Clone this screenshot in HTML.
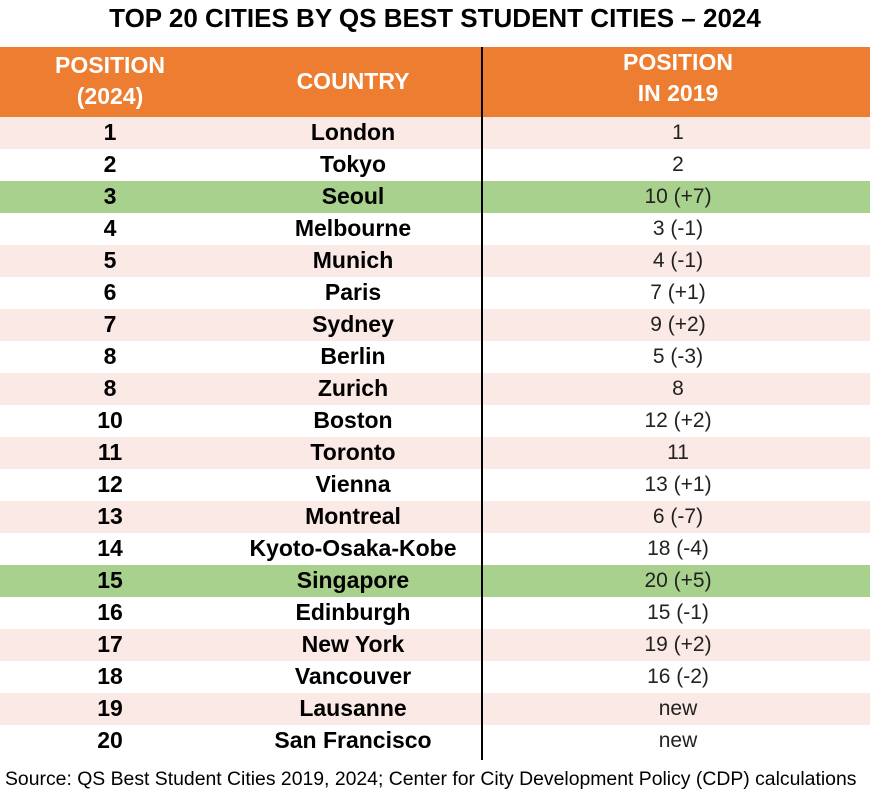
<!DOCTYPE html>
<html><head><meta charset="utf-8"><style>
body{margin:0;width:870px;height:798px;background:#fff;position:relative;overflow:hidden;font-family:"Liberation Sans",sans-serif}
.t{position:absolute;left:0;width:870px;top:3px;text-align:center;font-weight:bold;font-size:26px;color:#000}
.hd{position:absolute;left:0;top:47px;width:870px;height:70px;background:#ED7D31}
.hc{position:absolute;color:#fff;font-weight:bold;font-size:23px;text-align:center;line-height:31px}
.row{position:absolute;left:0;width:870px;height:32px}
.c{position:absolute;top:0;height:32px;line-height:31px;text-align:center;white-space:nowrap}
.b{font-weight:bold;font-size:23px}
.r{font-size:21px;color:#222}
.div{position:absolute;left:481px;top:47px;width:2px;height:713px;background:#000}
.src{position:absolute;left:5px;top:768px;font-size:19.4px;color:#000;white-space:nowrap}
</style></head><body>
<div class="t">TOP 20 CITIES BY QS BEST STUDENT CITIES – 2024</div>
<div class="hd">
<div class="hc" style="left:30px;width:160px;top:3px">POSITION<br>(2024)</div>
<div class="hc" style="left:253px;width:200px;top:19px">COUNTRY</div>
<div class="hc" style="left:578px;width:200px;top:0px">POSITION<br>IN 2019</div>
</div>
<div id="rows"></div>
<div class="div"></div>
<div class="src">Source: QS Best Student Cities 2019, 2024; Center for City Development Policy (CDP) calculations</div>
<script>
const positions=["1","2","3","4","5","6","7","8","8","10","11","12","13","14","15","16","17","18","19","20"];
const cities=["London","Tokyo","Seoul","Melbourne","Munich","Paris","Sydney","Berlin","Zurich","Boston","Toronto","Vienna","Montreal","Kyoto-Osaka-Kobe","Singapore","Edinburgh","New York","Vancouver","Lausanne","San Francisco"];
const prev=["1","2","10 (+7)","3 (-1)","4 (-1)","7 (+1)","9 (+2)","5 (-3)","8","12 (+2)","11","13 (+1)","6 (-7)","18 (-4)","20 (+5)","15 (-1)","19 (+2)","16 (-2)","new","new"];
const highlight=[2,14];
const host=document.getElementById('rows');
positions.forEach((p,i)=>{
 const r=document.createElement('div');
 r.className='row';
 
 
 r.style.top=(117+i*32)+'px';
 r.style.background=highlight.includes(i)?'#A9D18E':(i%2===0?'#FBE9E5':'#fff');
 const a=document.createElement('div');a.className='c b';a.style.left='40px';a.style.width='140px';a.textContent=p;
 
 
 const b=document.createElement('div');b.className='c b';b.style.left='203px';b.style.width='300px';b.textContent=cities[i];
 
 
 const c=document.createElement('div');c.className='c r';c.style.left='578px';c.style.width='200px';c.textContent=prev[i];
 
 
 r.append(a,b,c);host.appendChild(r);
});
</script>
</body></html>
